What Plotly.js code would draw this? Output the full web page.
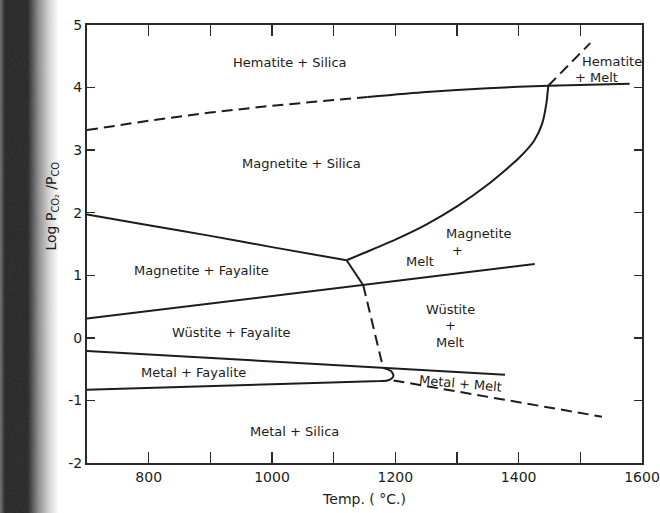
<!DOCTYPE html>
<html>
<head>
<meta charset="utf-8">
<script src="https://cdn.plot.ly/plotly-3.0.1.min.js"></script>
<style>
  html, body { margin: 0; padding: 0; background: #fff; overflow: hidden; width: 660px; height: 513px; }
  ::-webkit-scrollbar { width: 0; height: 0; display: none; }
  #wrap { position: relative; width: 660px; height: 513px; overflow: hidden; }
  #chart { position: absolute; left: 0; top: 0; width: 660px; height: 513px; }
  #edge { position: absolute; left: 0; top: 0; pointer-events: none; }
</style>
</head>
<body>
<div id="wrap">
  <div id="chart"></div>
  <!-- grainy dark strip along the left margin of the scanned sheet -->
  <svg id="edge" width="62" height="513">
    <defs>
      <filter id="speck" x="0" y="0" width="100%" height="100%">
        <feTurbulence type="fractalNoise" baseFrequency="0.9" numOctaves="3" seed="11" result="n"/>
        <feColorMatrix in="n" type="matrix"
          values="0 0 0 0 0.03  0 0 0 0 0.03  0 0 0 0 0.03  0 0 0 5 -1.6"/>
      </filter>
      <linearGradient id="fade" x1="0" x2="1" y1="0" y2="0">
        <stop offset="0" stop-color="#aaa"/>
        <stop offset="0.08" stop-color="#fff"/>
        <stop offset="0.45" stop-color="#fff"/>
        <stop offset="0.62" stop-color="#888"/>
        <stop offset="0.78" stop-color="#3a3a3a"/>
        <stop offset="0.95" stop-color="#000"/>
      </linearGradient>
      <mask id="fadeMask"><rect width="62" height="513" fill="url(#fade)"/></mask>
    </defs>
    <g mask="url(#fadeMask)">
      <rect width="62" height="513" fill="#111" opacity="0.9"/>
      <rect width="62" height="513" filter="url(#speck)"/>
    </g>
  </svg>
</div>
<script>
// Phase boundaries, temperature (°C) vs log(pCO2/pCO)

// Hematite + Silica / Magnetite + Silica
const hemMagDashT = [700, 800, 900, 1000, 1100, 1155];
const hemMagDashL = [3.32, 3.47, 3.60, 3.71, 3.80, 3.85];
const hemMagSolidT = [1155, 1250, 1350, 1448, 1580];
const hemMagSolidL = [3.85, 3.93, 3.99, 4.03, 4.06];

// Hematite + Melt, upper boundary
const hemMeltT = [1448, 1516];
const hemMeltL = [4.03, 4.71];

// Magnetite + Silica / Magnetite + Melt
const magLiqT = [1121, 1150, 1200, 1250, 1300, 1350, 1400, 1425, 1438, 1445, 1448];
const magLiqL = [1.24, 1.36, 1.57, 1.81, 2.10, 2.45, 2.87, 3.15, 3.42, 3.75, 4.03];

// Magnetite + Silica / Magnetite + Fayalite
const magFayT = [700, 800, 900, 1000, 1121];
const magFayL = [1.97, 1.80, 1.63, 1.45, 1.24];

// Magnetite / Wüstite
const magWusT = [700, 1426];
const magWusL = [0.31, 1.18];

// Fayalite / Melt
const fayMeltSolidT = [1121, 1148];
const fayMeltSolidL = [1.24, 0.84];
const fayMeltDashT = [1148, 1180];
const fayMeltDashL = [0.84, -0.47];

// Wüstite + Fayalite / Metal + Fayalite
const wusMetT = [700, 1378];
const wusMetL = [-0.21, -0.59];

// Metal + Fayalite / Metal + Silica, closing round the end of the field
const metFayT = [700, 1000, 1176, 1187, 1194, 1197, 1193, 1180];
const metFayL = [-0.83, -0.74, -0.69, -0.68, -0.65, -0.60, -0.53, -0.48];

// Metal + Melt / Metal + Silica
const metMeltT = [1197, 1535];
const metMeltL = [-0.68, -1.26];

// Field labels
const fieldText = ['Hematite + Silica', 'Magnetite + Silica', 'Hematite', '+ Melt',
  'Magnetite + Fayalite', 'Wüstite + Fayalite', 'Metal + Fayalite',
  'Magnetite', '+', 'Melt', 'Wüstite', '+', 'Melt', 'Metal + Melt', 'Metal + Silica'];
const fieldT = [1029, 1048, 1551, 1527, 886, 935, 872, 1335, 1300, 1240, 1289, 1289, 1289, 1305, 1036];
const fieldL = [4.40, 2.79, 4.41, 4.16, 1.08, 0.08, -0.56, 1.67, 1.40, 1.22, 0.46, 0.19, -0.08, -0.73, -1.49];
const fieldAngle = [0, 0, 0, 0, 0, 0, 0, 0, 0, 0, 0, 0, 0, 5, 0];

// Axis ticks
const xLabelVals = [800, 1000, 1200, 1400, 1600];
const xLabelText = ['800', '1000', '1200', '1400', '1600'];
const xMinorVals = [900, 1100, 1300, 1500];
const yTickVals = [-2, -1, 0, 1, 2, 3, 4, 5];
const yTickText = ['-2', '-1', '0', '1', '2', '3', '4', '5'];

const ink = '#1c1c1c';
const FONT = 'DejaVu Sans, Verdana, sans-serif';

function solid(x, y) {
  return { x, y, mode: 'lines', type: 'scatter', hoverinfo: 'skip',
    line: { color: ink, width: 2, shape: 'spline', smoothing: 0.6 } };
}
function dashed(x, y) {
  return { x, y, mode: 'lines', type: 'scatter', hoverinfo: 'skip',
    line: { color: ink, width: 2, dash: '11px,6px' } };
}

const traces = [
  dashed(hemMagDashT, hemMagDashL),
  solid(hemMagSolidT, hemMagSolidL),
  dashed(hemMeltT, hemMeltL),
  solid(magLiqT, magLiqL),
  solid(magFayT, magFayL),
  solid(magWusT, magWusL),
  solid(fayMeltSolidT, fayMeltSolidL),
  dashed(fayMeltDashT, fayMeltDashL),
  solid(wusMetT, wusMetL),
  solid(metFayT, metFayL),
  dashed(metMeltT, metMeltL)
];

const annotations = fieldText.map((t, i) => ({
  x: fieldT[i], y: fieldL[i], xref: 'x', yref: 'y', text: t, showarrow: false,
  textangle: fieldAngle[i], font: { family: FONT, size: 13, color: ink }
}));

// rotated y-axis label
annotations.push({
  xref: 'paper', yref: 'y', x: -0.063, y: 2.1, xanchor: 'center', yanchor: 'middle',
  text: 'Log P<sub>CO₂</sub> /P<sub>CO</sub>', showarrow: false, textangle: -90,
  font: { family: FONT, size: 14, color: ink }
});

const axisCommon = {
  showgrid: false, zeroline: false, showline: true, mirror: 'ticks',
  linecolor: '#2a2a2a', linewidth: 2, ticks: 'inside', tickcolor: '#2a2a2a',
  tickwidth: 1.5, tickmode: 'array', tickfont: { family: FONT, size: 14, color: ink }
};

const layout = {
  width: 660, height: 513,
  margin: { l: 87, r: 18, t: 25, b: 50 },
  paper_bgcolor: 'rgba(0,0,0,0)', plot_bgcolor: 'rgba(0,0,0,0)',
  showlegend: false,
  xaxis: Object.assign({}, axisCommon, {
    range: [700, 1600], tickvals: xLabelVals, ticktext: xLabelText, ticklen: 11,
    minor: { tickmode: 'array', tickvals: xMinorVals, ticks: 'inside', ticklen: 11,
             tickcolor: '#2a2a2a', tickwidth: 1.5, showgrid: false },
    title: { text: 'Temp. ( °C.)', font: { family: FONT, size: 14, color: ink }, standoff: 10 }
  }),
  yaxis: Object.assign({}, axisCommon, {
    range: [-2, 5], tickvals: yTickVals, ticktext: yTickText, ticklen: 8
  }),
  annotations
};

Plotly.newPlot('chart', traces, layout, { staticPlot: true, displayModeBar: false });
</script>
</body>
</html>
